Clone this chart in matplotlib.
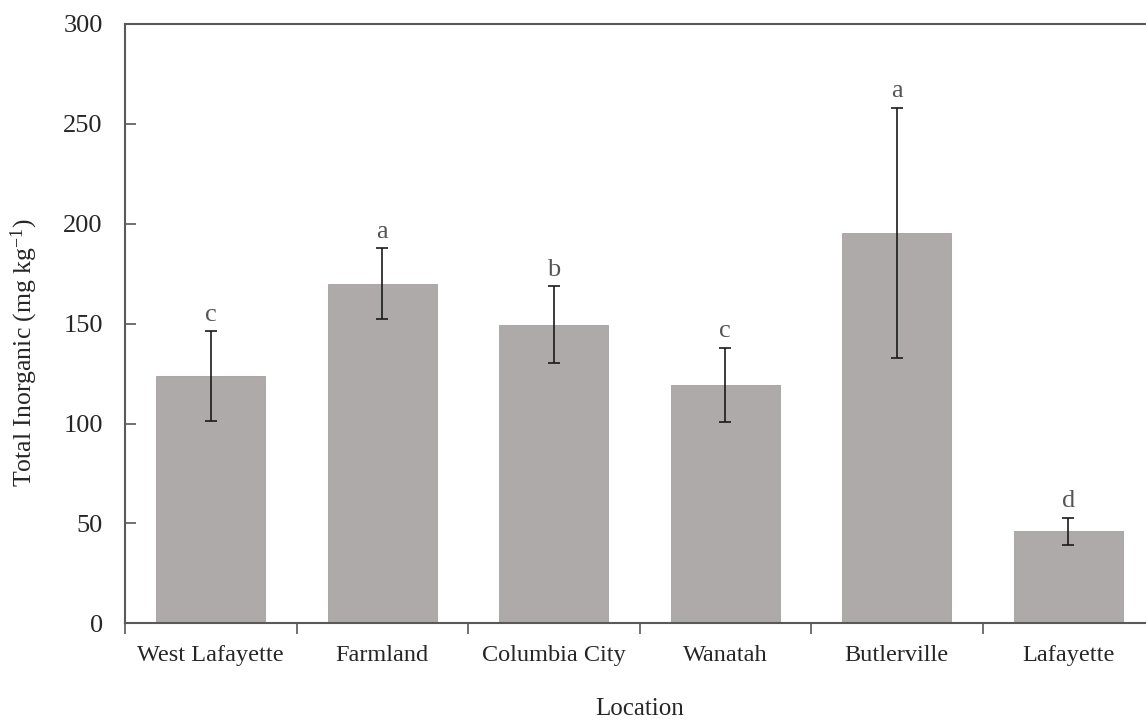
import matplotlib
matplotlib.use("Agg")
import matplotlib.pyplot as plt
import numpy as np

# data
locations = ["West Lafayette", "Farmland", "Columbia City", "Wanatah", "Butlerville", "Lafayette"]
means = [123.7, 170.0, 149.5, 119.2, 195.5, 46.0]
errors = [22.4, 17.8, 19.2, 18.6, 62.7, 6.7]
groups = ["c", "a", "b", "c", "a", "d"]

plt.rcParams["font.family"] = ["Liberation Serif", "DejaVu Serif"]
plt.rcParams["mathtext.fontset"] = "custom"
plt.rcParams["mathtext.rm"] = "Liberation Serif"
plt.rcParams["mathtext.it"] = "Liberation Serif:italic"

spine_col = "#595959"
text_col = "#262626"

fig = plt.figure(figsize=(11.46, 7.23), dpi=100)
# axes runs slightly past the right edge of the figure
ax = fig.add_axes([125 / 1146, 1 - 623.3 / 723, 1029 / 1146, (623.3 - 24) / 723])

x = np.arange(len(locations))
ax.bar(x, means, width=0.635, color="#aeaaa9", edgecolor="#a4a09f", linewidth=0.6, zorder=2)
ax.errorbar(x, means, yerr=errors, fmt="none", ecolor="#1a1a1a", elinewidth=1.2,
            capsize=4.3, capthick=1.2, zorder=3)

# significance letters above each error bar
for xi, m, e, g in zip(x, means, errors, groups):
    ax.annotate(g, (xi, m + e), xytext=(0, 4), textcoords="offset points",
                ha="center", va="bottom", fontsize=19, color="#555555")

ax.set_xlim(-0.5, len(locations) - 0.5)
ax.set_ylim(0, 300)
ax.set_yticks(np.arange(0, 301, 50))

# boundary ticks between categories, labels at the centres
ax.set_xticks(np.arange(-0.5, len(locations), 1.0))
ax.set_xticklabels([])
ax.set_xticks(x, minor=True)
ax.set_xticklabels(locations, minor=True)
ax.tick_params(axis="x", which="major", direction="out", length=8, width=1.2, color=spine_col)
ax.tick_params(axis="x", which="minor", length=0, pad=15.5, labelsize=17.5, labelcolor=text_col)
ax.tick_params(axis="y", direction="in", length=8, width=1.2, color=spine_col,
               pad=16, labelsize=19, labelcolor=text_col)

for s in ax.spines.values():
    s.set_color(spine_col)
    s.set_linewidth(1.5)

ax.set_xlabel("Location", fontsize=18, color=text_col, labelpad=23)
ax.set_ylabel(r"Total Inorganic (mg kg$^{\mathrm{-1}}$)", fontsize=18.5, color=text_col)
ax.yaxis.set_label_coords(-0.083, 0.451)

fig.savefig("out.png", dpi=100)
